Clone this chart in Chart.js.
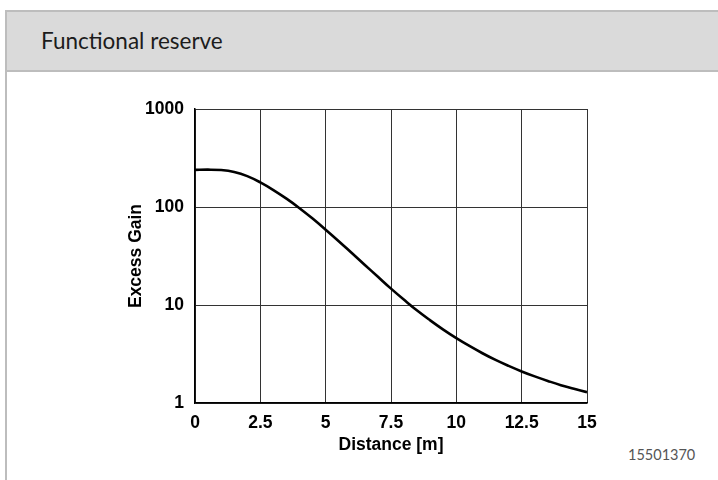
<!DOCTYPE html>
<html>
<head>
<meta charset="utf-8">
<script src="https://cdn.jsdelivr.net/npm/chart.js@4"></script>
<style>
  html, body { margin: 0; padding: 0; background: #fff; width: 718px; height: 480px; overflow: hidden; }
  #card { position: absolute; left: 5px; top: 10px; width: 800px; height: 520px; border-left: 2px solid #bdbdbd; border-top: 2px solid #bdbdbd; box-sizing: border-box; }
  #head { position: absolute; left: 0; top: 0; width: 100%; height: 60px; background: #dadada; border-bottom: 2px solid #bdbdbd; box-sizing: border-box; }
  #title { position: absolute; left: 41px; top: 26px; font: 22.5px Lato, sans-serif; line-height: 30px; color: #1c1c1c; white-space: nowrap; }
  #code { position: absolute; left: 628px; top: 445px; font: 14.5px Lato, sans-serif; line-height: 20px; color: #555; }
  #wrap { position: absolute; left: 0; top: 0; width: 718px; height: 480px; }
</style>
</head>
<body>
<div id="card"><div id="head"></div></div>
<div id="title">Functional reserve</div>
<div id="code">15501370</div>
<div id="wrap"><canvas id="c" width="718" height="480"></canvas></div>
<script>
const distances = [0, 0.5, 1, 1.5, 2, 2.5, 3, 3.5, 4, 4.5, 5, 5.5, 6, 6.5, 7, 7.5, 8, 8.5, 9, 9.5, 10, 10.5, 11, 11.5, 12, 12.5, 13, 13.5, 14, 14.5, 15];
const excessGain = [239, 240.4, 238.2, 227.5, 206.5, 178.2, 148.9, 121.6, 97.3, 76.2, 58.7, 44.8, 33.9, 25.6, 19.4, 14.7, 11.3, 8.77, 6.97, 5.61, 4.59, 3.82, 3.22, 2.75, 2.39, 2.10, 1.87, 1.68, 1.52, 1.40, 1.29];
const yTicks = [1, 10, 100, 1000];
const xTickStep = 2.5;
const xTitle = 'Distance [m]';
const yTitle = 'Excess Gain';

const tickFont = { family: '"Liberation Sans", Arial, sans-serif', size: 17.5, weight: 'bold' };

new Chart(document.getElementById('c'), {
  type: 'line',
  data: {
    datasets: [{
      data: distances.map((d, i) => ({ x: d, y: excessGain[i] })),
      borderColor: '#000',
      borderWidth: 2.6,
      pointRadius: 0,
      tension: 0.4,
      fill: false
    }]
  },
  options: {
    responsive: false,
    animation: false,
    devicePixelRatio: 1,
    layout: { padding: { left: 110, top: 109, right: 131, bottom: 24 } },
    plugins: { legend: { display: false }, tooltip: { enabled: false } },
    scales: {
      x: {
        type: 'linear', min: 0, max: 15,
        ticks: { stepSize: xTickStep, color: '#000', font: tickFont, padding: 10, maxRotation: 0 },
        grid: { color: '#333', lineWidth: 1, drawTicks: false },
        border: { color: '#000', width: 1.5 },
        title: { display: true, text: xTitle, color: '#000', font: tickFont, padding: 0 },
        afterFit: (s) => { s.height = 53; s.paddingLeft = 0; s.paddingRight = 0; }
      },
      y: {
        type: 'logarithmic', min: 1, max: 1000,
        afterBuildTicks: (s) => { s.ticks = yTicks.map(v => ({ value: v })); },
        ticks: { color: '#000', font: tickFont, padding: 11, callback: (v) => String(v) },
        grid: { color: '#333', lineWidth: 1, drawTicks: false },
        border: { color: '#000', width: 1.5 },
        title: { display: true, text: yTitle, color: '#000', font: tickFont, padding: { top: 15.5, bottom: 0 } },
        afterFit: (s) => { s.width = 85; s.paddingTop = 0; s.paddingBottom = 0; }
      }
    }
  }
});
</script>
</body>
</html>
